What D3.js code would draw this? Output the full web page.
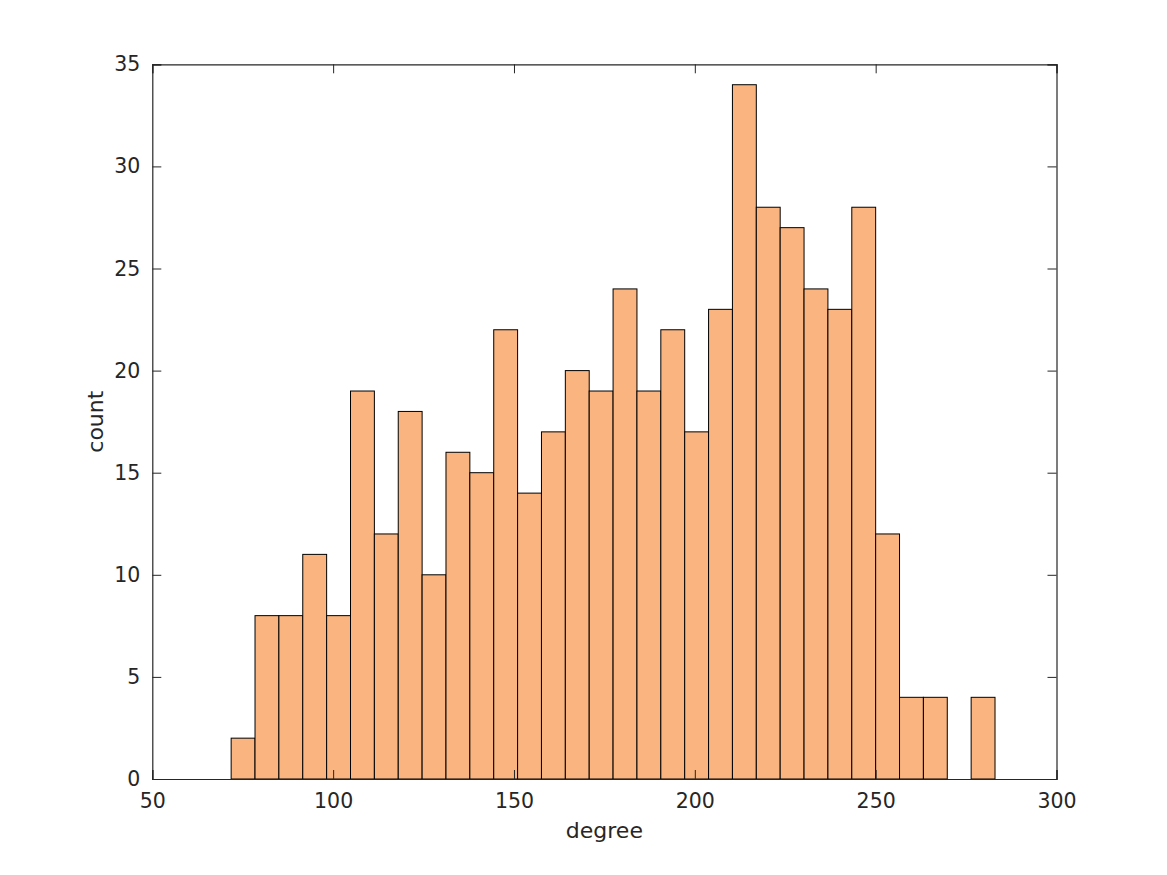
<!DOCTYPE html>
<html>
<head>
<meta charset="utf-8">
<script src="https://cdn.jsdelivr.net/npm/d3@7"></script>
<style>
  body { margin: 0; background: #fff; }
  text { font-family: "DejaVu Sans", sans-serif; fill: #262626; }
</style>
</head>
<body>
<div id="chart"></div>
<script>
// histogram of degree, 32 bins
var binStart = 71.8;
var binWidth = 6.6;
var counts = [2, 8, 8, 11, 8, 19, 12, 18, 10, 16, 15, 22, 14, 17, 20, 19,
              24, 19, 22, 17, 23, 34, 28, 27, 24, 23, 28, 12, 4, 4, 0, 4];
var xTicks = [50, 100, 150, 200, 250, 300];
var yTicks = [0, 5, 10, 15, 20, 25, 30, 35];

var svgW = 1167, svgH = 875;
var plotL = 152.3, plotR = 1056.5, plotT = 64.3, plotB = 779;
var tickLen = 9;

var xScale = d3.scaleLinear().domain([50, 300]).range([plotL, plotR]);
var yScale = d3.scaleLinear().domain([0, 35]).range([plotB, plotT]);

var bins = counts.map(function(c, i) {
    return { x0: binStart + i * binWidth, x1: binStart + (i + 1) * binWidth, n: c };
});

var svg = d3.select("#chart")
    .append("svg")
    .attr("width", svgW)
    .attr("height", svgH);

// bars
svg.append("g")
    .selectAll("rect")
    .data(bins.filter(function(d) { return d.n > 0; }))
    .enter()
    .append("rect")
    .attr("x", function(d) { return xScale(d.x0); })
    .attr("y", function(d) { return yScale(d.n); })
    .attr("width", function(d) { return xScale(d.x1) - xScale(d.x0); })
    .attr("height", function(d) { return yScale(0) - yScale(d.n); })
    .attr("fill", "#f9b47f")
    .attr("stroke", "#000")
    .attr("stroke-width", 1);

// axes (inside ticks, mirrored box like matlab)
var axisColor = "#262626";
var xAxis = d3.axisBottom(xScale).tickValues(xTicks).tickSize(-tickLen).tickPadding(14);
var yAxis = d3.axisLeft(yScale).tickValues(yTicks).tickSize(-tickLen).tickPadding(12);

var gx = svg.append("g").attr("transform", "translate(0," + plotB + ")").call(xAxis);
var gy = svg.append("g").attr("transform", "translate(" + plotL + ",0)").call(yAxis);
var gxTop = svg.append("g").attr("transform", "translate(0," + plotT + ")")
    .call(d3.axisTop(xScale).tickValues(xTicks).tickSize(-tickLen).tickFormat(""));
var gyRight = svg.append("g").attr("transform", "translate(" + plotR + ",0)")
    .call(d3.axisRight(yScale).tickValues(yTicks).tickSize(-tickLen).tickFormat(""));

[gx, gy, gxTop, gyRight].forEach(function(g) {
    g.select(".domain").attr("stroke", axisColor).attr("stroke-width", 1.2);
    g.selectAll(".tick line").attr("stroke", axisColor).attr("stroke-width", 1);
    g.selectAll(".tick text")
        .attr("font-family", "DejaVu Sans, sans-serif")
        .attr("font-size", 20.5)
        .attr("fill", axisColor);
});

// axis labels
svg.append("text")
    .attr("x", (plotL + plotR) / 2)
    .attr("y", 838)
    .attr("text-anchor", "middle")
    .attr("font-size", 22)
    .text("degree");

svg.append("text")
    .attr("transform", "translate(103," + ((plotT + plotB) / 2) + ") rotate(-90)")
    .attr("text-anchor", "middle")
    .attr("font-size", 22)
    .text("count");
</script>
</body>
</html>
